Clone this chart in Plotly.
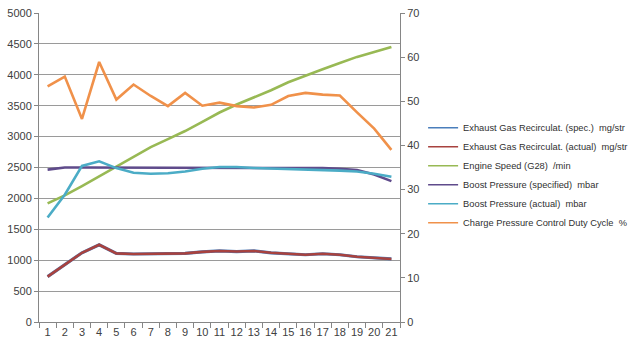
import plotly.graph_objects as go

categories = [str(i) for i in range(1, 22)]

egr_spec = [735, 935, 1120, 1250, 1110, 1100, 1100, 1105, 1110, 1135, 1150, 1140, 1150, 1120, 1100, 1088, 1104, 1088, 1056, 1040, 1020]
egr_actual = [735, 935, 1120, 1250, 1110, 1100, 1100, 1105, 1110, 1135, 1150, 1140, 1150, 1120, 1100, 1088, 1104, 1088, 1056, 1040, 1020]
engine_speed = [1920, 2050, 2200, 2360, 2510, 2670, 2830, 2960, 3090, 3240, 3390, 3520, 3630, 3750, 3880, 3990, 4090, 4190, 4290, 4370, 4450]
boost_spec = [2465, 2500, 2500, 2500, 2500, 2500, 2500, 2500, 2500, 2500, 2500, 2500, 2500, 2500, 2500, 2500, 2490, 2480, 2460, 2385, 2280]
boost_actual = [1690, 2060, 2525, 2600, 2490, 2415, 2400, 2407, 2434, 2480, 2508, 2508, 2493, 2485, 2480, 2475, 2460, 2450, 2435, 2400, 2350]
duty_cycle = [53.4, 55.6, 46.0, 58.9, 50.4, 53.8, 51.2, 48.9, 51.9, 49.0, 49.7, 48.9, 48.6, 49.2, 51.2, 51.9, 51.5, 51.3, 47.5, 43.8, 39.0]

names = [
    "Exhaust Gas Recirculat. (spec.)  mg/str",
    "Exhaust Gas Recirculat. (actual)  mg/str",
    "Engine Speed (G28)  /min",
    "Boost Pressure (specified)  mbar",
    "Boost Pressure (actual)  mbar",
    "Charge Pressure Control Duty Cycle  %",
]
colors = ["#4A7EBB", "#A8423F", "#98B954", "#5F4B8B", "#4BACC6", "#F0914A"]
series = [egr_spec, egr_actual, engine_speed, boost_spec, boost_actual, duty_cycle]
axes = ["y", "y", "y", "y", "y", "y2"]

fig = go.Figure()
for i, s in enumerate(series):
    fig.add_trace(go.Scatter(x=categories, y=s, mode="lines", name=names[i], showlegend=False,
                             line=dict(color=colors[i], width=2.6 if i != 0 else 3.2), yaxis=axes[i]))
# legend entries drawn with thin lines, as in the reference
for i in range(len(names)):
    fig.add_trace(go.Scatter(x=[None], y=[None], mode="lines", name=names[i],
                             line=dict(color=colors[i], width=1.5), yaxis=axes[i]))

axis_font = dict(family="Liberation Sans, Arial, sans-serif", size=11, color="#404040")
fig.update_layout(
    width=640, height=351,
    margin=dict(l=37, r=228, t=7, b=29),
    paper_bgcolor="white", plot_bgcolor="white",
    showlegend=True,
    legend=dict(x=1.064, y=0.475, xanchor="left", yanchor="middle",
                font=dict(family="Liberation Sans, Arial, sans-serif", size=9.3, color="#303030"),
                bgcolor="rgba(0,0,0,0)", tracegroupgap=0, itemwidth=30),
    xaxis=dict(type="category", tickson="boundaries", ticks="outside", ticklen=5, tickangle=0,
               tickcolor="#868686", showline=True, linecolor="#868686", linewidth=1,
               showgrid=False, tickfont=axis_font, range=[-0.5, 20.5]),
    yaxis=dict(range=[0, 5000], dtick=500, showgrid=True, gridcolor="#9a9a9a", gridwidth=1,
               showline=True, linecolor="#868686", ticks="outside", ticklen=4,
               tickcolor="#868686", tickfont=axis_font, zeroline=False),
    yaxis2=dict(range=[0, 70], dtick=10, overlaying="y", side="right", showgrid=False,
                showline=True, linecolor="#868686", ticks="outside", ticklen=4,
                tickcolor="#868686", tickfont=axis_font, zeroline=False),
)
fig.write_html("out.html")
